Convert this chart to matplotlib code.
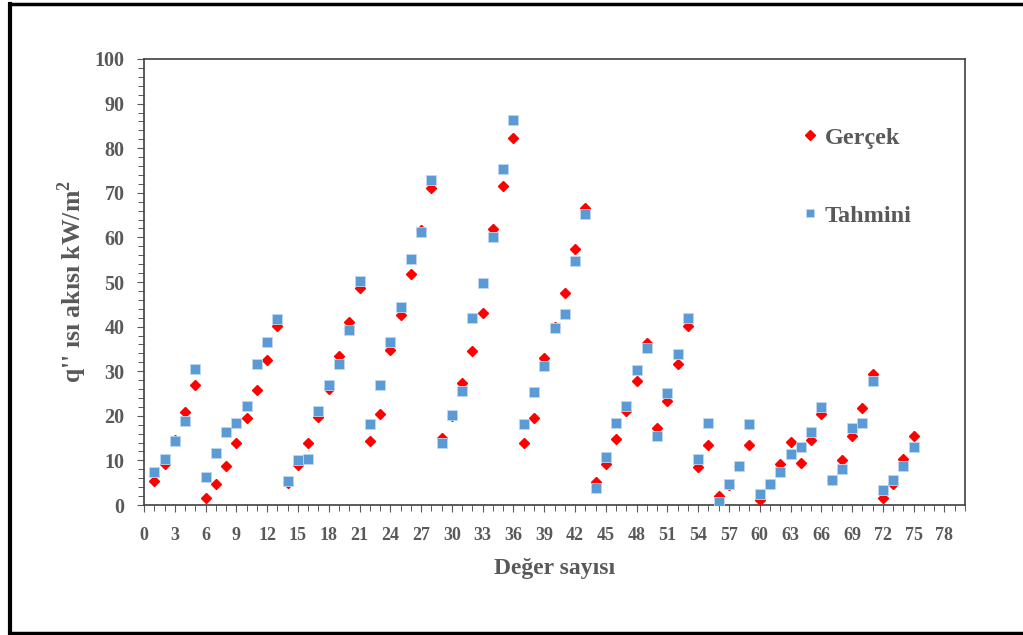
import matplotlib.pyplot as plt
import numpy as np
from matplotlib.ticker import MultipleLocator
from matplotlib.lines import Line2D

# Data
idx = list(range(1, 76))
gercek = [5.3, 9.2, 14.5, 20.9, 26.8, 1.6, 4.7, 8.8, 13.8, 19.5,
          25.8, 32.5, 40.2, 5.0, 9.0, 14.0, 19.7, 26.0, 33.5, 41.0,
          48.6, 14.4, 20.5, 34.8, 42.5, 51.7, 61.6, 71.0, 15.0, 20.0,
          27.4, 34.6, 43.1, 61.8, 71.5, 82.2, 13.9, 19.5, 33.0, 40.0,
          47.6, 57.5, 66.7, 5.2, 9.2, 14.8, 21.0, 27.9, 36.3, 17.3,
          23.4, 31.7, 40.1, 8.5, 13.5, 2.0, 4.5, 8.8, 13.5, 1.2,
          4.7, 9.2, 14.2, 9.4, 14.6, 20.4, 5.5, 10.1, 15.5, 21.8,
          29.4, 1.6, 4.7, 10.3, 15.5]
tahmini = [7.3, 10.3, 14.4, 18.9, 30.5, 6.3, 11.7, 16.4, 18.4, 22.1,
           31.7, 36.6, 41.6, 5.4, 10.1, 10.4, 21.1, 27.0, 31.7, 39.3,
           50.3, 18.2, 27.0, 36.6, 44.3, 55.1, 61.1, 72.8, 13.9, 20.2,
           25.6, 42.0, 49.7, 60.2, 75.3, 86.3, 18.2, 25.4, 31.2, 39.6,
           42.9, 54.8, 65.2, 3.8, 10.8, 18.4, 22.2, 30.3, 35.1, 15.5,
           25.2, 33.9, 42.0, 10.4, 18.4, 0.7, 4.7, 8.8, 18.2, 2.5,
           4.7, 7.4, 11.4, 13.1, 16.4, 22.0, 5.6, 8.1, 17.3, 18.4,
           27.9, 3.4, 5.6, 8.8, 13.1]

grey = '#595959'
serif = ['Liberation Serif', 'DejaVu Serif']

fig = plt.figure(figsize=(10.23, 6.35), dpi=100)
ax = fig.add_axes([0.1408, 0.2047, 0.8025, 0.7024])

ax.plot(idx, gercek, linestyle='none', marker='D', markersize=5.6,
        color='#FF0000', label='Gerçek', zorder=3)
ax.plot(idx, tahmini, linestyle='none', marker='s', markersize=7.5,
        color='#5B9BD5', markeredgecolor='#BDD7EE', markeredgewidth=0.6,
        label='Tahmini', zorder=4)

ax.set_xlim(0, 80)
ax.set_ylim(0, 100)
ax.xaxis.set_major_locator(MultipleLocator(3))
ax.xaxis.set_minor_locator(MultipleLocator(1))
ax.yaxis.set_major_locator(MultipleLocator(10))
ax.yaxis.set_minor_locator(MultipleLocator(2))
ax.tick_params(which='major', direction='out', length=5, width=0.8,
               color=grey, labelcolor=grey)
ax.tick_params(which='minor', direction='out', length=4, width=0.7, color=grey)
ax.set_xticks(np.arange(0, 79, 3))
for lab in ax.get_xticklabels():
    lab.set_family(serif)
    lab.set_fontweight('bold')
    lab.set_fontsize(13)
for lab in ax.get_yticklabels():
    lab.set_family(serif)
    lab.set_fontweight('bold')
    lab.set_fontsize(14.5)
ax.tick_params(axis='x', pad=11)
ax.tick_params(axis='y', pad=9)

for sp in ax.spines.values():
    sp.set_color('#404040')
    sp.set_linewidth(1.2)

ax.set_xlabel('Değer sayısı', family=serif, fontweight='bold',
              fontsize=17, color=grey, labelpad=10)
ax.set_ylabel("q'' ısı akısı kW/m$^\\mathregular{2}$", family=serif,
              fontweight='bold', fontsize=18.5, color=grey, labelpad=4)

leg = ax.legend(loc='upper left', bbox_to_anchor=(0.777, 0.897), frameon=False,
                prop={'family': serif, 'weight': 'bold', 'size': 17.5},
                labelspacing=2.3, handlelength=0.5, handletextpad=0.35,
                markerscale=0.85)
for t in leg.get_texts():
    t.set_color(grey)

# outer frame (cut off at the right edge)
fig.add_artist(Line2D([0.0095, 0.0095], [0.003, 0.994], transform=fig.transFigure,
                      color='black', linewidth=3))
fig.add_artist(Line2D([0.0095, 1.0], [0.994, 0.994], transform=fig.transFigure,
                      color='black', linewidth=2.5))
fig.add_artist(Line2D([0.0095, 1.0], [0.003, 0.003], transform=fig.transFigure,
                      color='black', linewidth=2.5))

fig.savefig('out.png', dpi=100)
